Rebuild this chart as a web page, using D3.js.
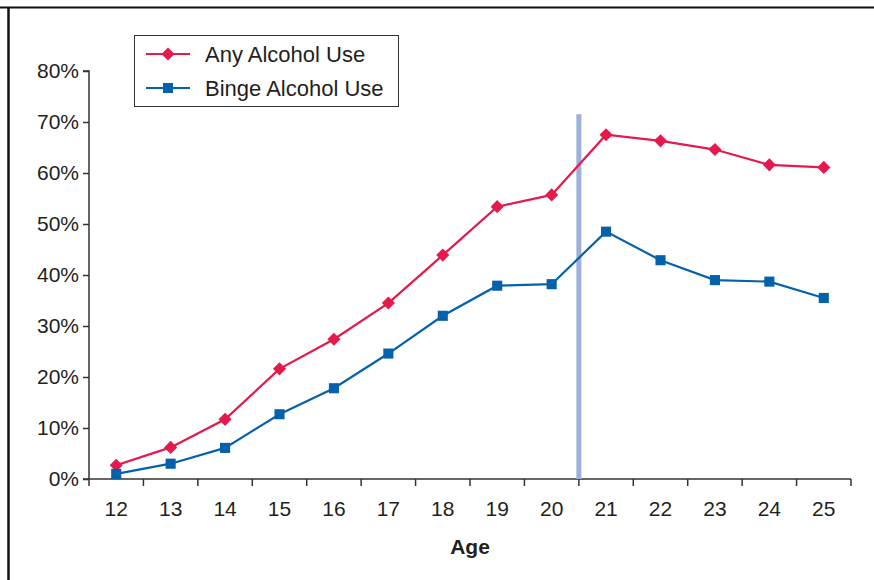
<!DOCTYPE html>
<html>
<head>
<meta charset="utf-8">
<script src="https://cdn.jsdelivr.net/npm/d3@7"></script>
<style>
  html, body { margin: 0; padding: 0; background: #fff; }
  svg { display: block; font-family: "Liberation Sans", Arial, sans-serif; }
</style>
</head>
<body>
<svg id="chart" width="874" height="580"></svg>
<script>
// Ages on the x axis
const ages = ["12","13","14","15","16","17","18","19","20","21","22","23","24","25"];
// Percent reporting past-month use, by age
const anyAlcohol   = [2.7, 6.2, 11.7, 21.6, 27.4, 34.5, 43.9, 53.4, 55.7, 67.5, 66.3, 64.6, 61.6, 61.1];
const bingeAlcohol = [1.0, 3.0, 6.1, 12.7, 17.8, 24.6, 32.0, 37.9, 38.2, 48.5, 42.9, 39.0, 38.7, 35.5];
const yTicks = [0, 10, 20, 30, 40, 50, 60, 70, 80];
const seriesNames = ["Any Alcohol Use", "Binge Alcohol Use"];
// Legal drinking age boundary (between 20 and 21)
const legalAge = "21";

const RED = "#e5194b", BLUE = "#0562aa", INK = "#231f20", AXIS = "#333";

const svg = d3.select("#chart");
const plotLeft = 89, plotRight = 851, plotTop = 71, plotBottom = 479;

// outer frame
svg.append("line").attr("x1", 0).attr("x2", 874).attr("y1", 7.5).attr("y2", 7.5)
  .attr("stroke", "#111").attr("stroke-width", 2);
svg.append("line").attr("x1", 8.5).attr("x2", 8.5).attr("y1", 7).attr("y2", 580)
  .attr("stroke", "#111").attr("stroke-width", 2.5);

const x = d3.scaleBand().domain(ages).range([plotLeft, plotRight]).padding(0);
const y = d3.scaleLinear().domain([0, 80]).range([plotBottom, plotTop]);
const cx = a => x(a) + x.bandwidth() / 2;

// y axis
const yAxis = svg.append("g").attr("transform", `translate(${plotLeft},0)`)
  .call(d3.axisLeft(y).tickValues(yTicks).tickFormat(d => d + "%").tickSize(6).tickPadding(4));
yAxis.select(".domain").attr("stroke", AXIS).attr("stroke-width", 1.5)
  .attr("d", `M-6,${plotTop}H0V${plotBottom}H-6`);
yAxis.selectAll(".tick line").attr("stroke", AXIS).attr("stroke-width", 1.5);
yAxis.selectAll(".tick text").attr("fill", INK).attr("font-size", 21)
  .attr("font-family", "Liberation Sans, Arial, sans-serif");

// x axis with ticks on the band boundaries
const xAxis = svg.append("g").attr("transform", `translate(0,${plotBottom})`);
xAxis.append("line").attr("x1", plotLeft).attr("x2", plotRight).attr("y1", 0).attr("y2", 0)
  .attr("stroke", AXIS).attr("stroke-width", 1.5);
const bounds = ages.map(a => x(a)).concat([x(ages[ages.length - 1]) + x.bandwidth()]);
xAxis.selectAll(".bt").data(bounds).join("line")
  .attr("x1", d => d).attr("x2", d => d).attr("y1", 0).attr("y2", 7)
  .attr("stroke", AXIS).attr("stroke-width", 1.5);
xAxis.selectAll(".lbl").data(ages).join("text")
  .attr("x", d => cx(d)).attr("y", 37).attr("text-anchor", "middle")
  .attr("fill", INK).attr("font-size", 21).text(d => d);

svg.append("text").attr("x", (plotLeft + plotRight) / 2).attr("y", 554).attr("text-anchor", "middle")
  .attr("fill", INK).attr("font-size", 21).attr("font-weight", "bold").text("Age");

// vertical marker at legal drinking age
svg.append("line").attr("x1", x(legalAge)).attr("x2", x(legalAge))
  .attr("y1", y(71.5)).attr("y2", plotBottom)
  .attr("stroke", "#9bb1da").attr("stroke-width", 5);

const line = d3.line().x((d, i) => cx(ages[i])).y(d => y(d));
const diamond = d3.symbol().type(d3.symbolDiamond2).size(110);
const square = d3.symbol().type(d3.symbolSquare2).size(130);

function drawSeries(vals, color, sym) {
  svg.append("path").datum(vals).attr("d", line)
    .attr("fill", "none").attr("stroke", color).attr("stroke-width", 2.2);
  svg.selectAll(null).data(vals).join("path")
    .attr("transform", (d, i) => `translate(${cx(ages[i])},${y(d)})`)
    .attr("d", sym).attr("fill", color);
}
drawSeries(anyAlcohol, RED, diamond);
drawSeries(bingeAlcohol, BLUE, square);

// legend
const lg = svg.append("g");
lg.append("rect").attr("x", 134.5).attr("y", 35.5).attr("width", 264).attr("height", 71)
  .attr("fill", "#fff").attr("stroke", "#333").attr("stroke-width", 1);
[[RED, diamond], [BLUE, square]].forEach(([c, s], i) => {
  const yy = 54 + i * 34;
  lg.append("line").attr("x1", 146).attr("x2", 190).attr("y1", yy).attr("y2", yy)
    .attr("stroke", c).attr("stroke-width", 2.2);
  lg.append("path").attr("transform", `translate(168,${yy})`).attr("d", s).attr("fill", c);
  lg.append("text").attr("x", 205).attr("y", yy + 8).attr("fill", INK).attr("font-size", 22)
    .text(seriesNames[i]);
});
</script>
</body>
</html>
